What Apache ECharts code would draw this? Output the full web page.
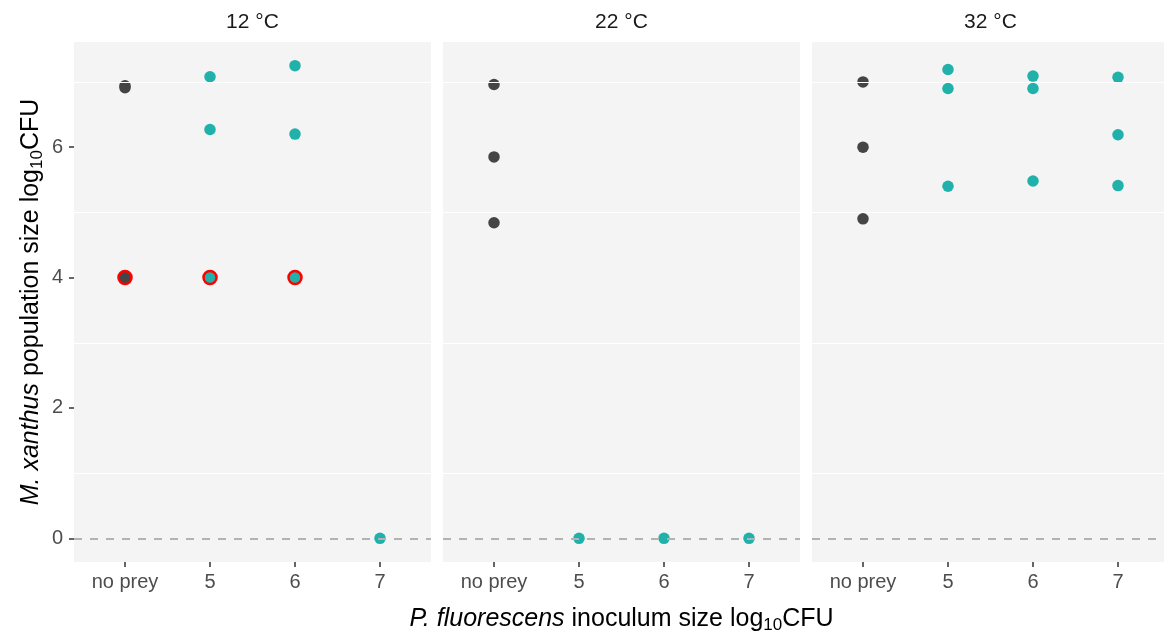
<!DOCTYPE html>
<html>
<head>
    <meta charset="utf-8">
    <title>M. xanthus vs P. fluorescens</title>
    <script src="https://cdn.jsdelivr.net/npm/echarts@6/dist/echarts.min.js"></script>
    <style>
        html, body { margin: 0; padding: 0; background: #fff; }
    </style>
</head>
<body>
    <div id="main" style="width: 1164px;height:634px;"></div>
    <script type="text/javascript">
        // categories on the x axis and facet labels
        var categories = ['no prey', '5', '6', '7'];
        var temps = ['12 °C', '22 °C', '32 °C'];

        // points: [category index, log10 CFU]
        var pts12 = [[0, 6.94], [0, 6.91], [1, 7.08], [1, 6.27], [2, 7.25], [2, 6.20], [3, 0]];
        var pts22 = [[0, 6.96], [0, 5.85], [0, 4.84], [1, 0], [2, 0], [3, 0]];
        var pts32 = [[0, 7.00], [0, 6.00], [0, 4.90], [1, 7.19], [1, 6.90], [1, 5.40],
                     [2, 7.09], [2, 6.90], [2, 5.48], [3, 7.07], [3, 6.19], [3, 5.41]];
        // points circled in red (12 °C only)
        var ringed12 = [[0, 4], [1, 4], [2, 4]];
        var ringed22 = [];
        var ringed32 = [];

        var yTicks = [0, 2, 4, 6];
        var yMinor = [1, 3, 5, 7];

        var panels = [pts12, pts22, pts32];
        var rings = [ringed12, ringed22, ringed32];

        // ggplot-like 5% expansion on y, 0.6 on discrete x
        var allY = [].concat(pts12, pts22, pts32, ringed12).map(function (d) { return d[1]; });
        var yHi = Math.max.apply(null, allY), yLo = Math.min.apply(null, allY);
        var pad = (yHi - yLo) * 0.05;
        var yMin = yLo - pad, yMax = yHi + pad;
        var xMin = 0.4, xMax = categories.length + 0.6;

        var DARK = '#454545', TEAL = '#20b2aa';
        var FONT = 'Liberation Sans, Arial, Helvetica, sans-serif';
        var lefts = [74, 443, 812];

        var myChart = echarts.init(document.getElementById('main'));

        var titleRich = {
            i: { fontStyle: 'italic', fontSize: 25, fontFamily: FONT, color: '#000', lineHeight: 30 },
            s: { fontSize: 17, fontFamily: FONT, color: '#000', verticalAlign: 'bottom', lineHeight: 30 }
        };

        var grid = [], xAxis = [], yAxis = [], series = [];
        lefts.forEach(function (l, i) {
            grid.push({
                left: l, top: 42, width: 357, height: 520,
                show: true, backgroundColor: '#f4f4f4', borderWidth: 0,
                outerBoundsMode: 'none', containLabel: false
            });
            xAxis.push({
                type: 'value', gridIndex: i, min: xMin, max: xMax, position: 'bottom',
                axisLine: { show: false, onZero: false },
                splitLine: { show: false },
                axisTick: { show: true, customValues: [1, 2, 3, 4], length: 5,
                            lineStyle: { color: '#333', width: 1.5 } },
                axisLabel: {
                    customValues: [1, 2, 3, 4], margin: 10,
                    color: '#4d4d4d', fontSize: 20, fontFamily: FONT,
                    formatter: function (v) { return categories[Math.round(v) - 1]; }
                },
                name: i === 1 ? '{i|P. fluorescens} inoculum size log{s|10}CFU' : '',
                nameLocation: 'middle', nameGap: 42,
                nameTextStyle: {
                    color: '#000', fontSize: 25, fontFamily: FONT, lineHeight: 30,
                    rich: titleRich
                }
            });
            // facet strip label
            xAxis.push({
                type: 'value', gridIndex: i, position: 'top', min: xMin, max: xMax,
                axisLine: { show: false, onZero: false }, axisTick: { show: false },
                axisLabel: { show: false }, splitLine: { show: false },
                name: temps[i], nameLocation: 'middle', nameGap: 9,
                nameTextStyle: { color: '#1a1a1a', fontSize: 21, fontFamily: FONT }
            });
            yAxis.push({
                type: 'value', gridIndex: i, min: yMin, max: yMax, position: 'left',
                axisLine: { show: false, onZero: false },
                splitLine: { show: false },
                axisTick: { show: i === 0, customValues: yTicks, length: 5,
                            lineStyle: { color: '#333', width: 1.5 } },
                axisLabel: { show: i === 0, customValues: yTicks, margin: 11,
                             color: '#4d4d4d', fontSize: 20, fontFamily: FONT },
                name: i === 0 ? '{i|M. xanthus} population size log{s|10}CFU' : '',
                nameLocation: 'middle', nameGap: 28,
                nameTextStyle: {
                    color: '#000', fontSize: 25, fontFamily: FONT, lineHeight: 30,
                    rich: titleRich
                }
            });

            // background grid lines and the dashed zero line
            var lines = yMinor.map(function (v) {
                return { yAxis: v, lineStyle: { color: '#ffffff', width: 1.2, type: 'solid' } };
            });
            lines.push({ yAxis: 0, lineStyle: { color: '#b3b3b3', width: 2, type: [8, 8] } });
            series.push({
                type: 'scatter', xAxisIndex: i * 2, yAxisIndex: i, data: [], z: 1,
                markLine: { silent: true, symbol: 'none', label: { show: false },
                            animation: false, data: lines }
            });

            series.push({
                type: 'scatter', xAxisIndex: i * 2, yAxisIndex: i, z: 3,
                symbolSize: 11.5,
                data: panels[i].map(function (d) { return [d[0] + 1, d[1]]; }),
                itemStyle: {
                    opacity: 1,
                    color: function (p) { return p.data[0] === 1 ? DARK : TEAL; }
                }
            });
            series.push({
                type: 'scatter', xAxisIndex: i * 2, yAxisIndex: i, z: 4,
                symbolSize: 13,
                data: rings[i].map(function (d) { return [d[0] + 1, d[1]]; }),
                itemStyle: {
                    opacity: 1, borderColor: '#ff0000', borderWidth: 2.5,
                    color: function (p) { return p.data[0] === 1 ? DARK : TEAL; }
                }
            });
        });

        var option = {
            animation: false,
            grid: grid,
            xAxis: xAxis,
            yAxis: yAxis,
            series: series
        };
        myChart.setOption(option);
    </script>
</body>
</html>
